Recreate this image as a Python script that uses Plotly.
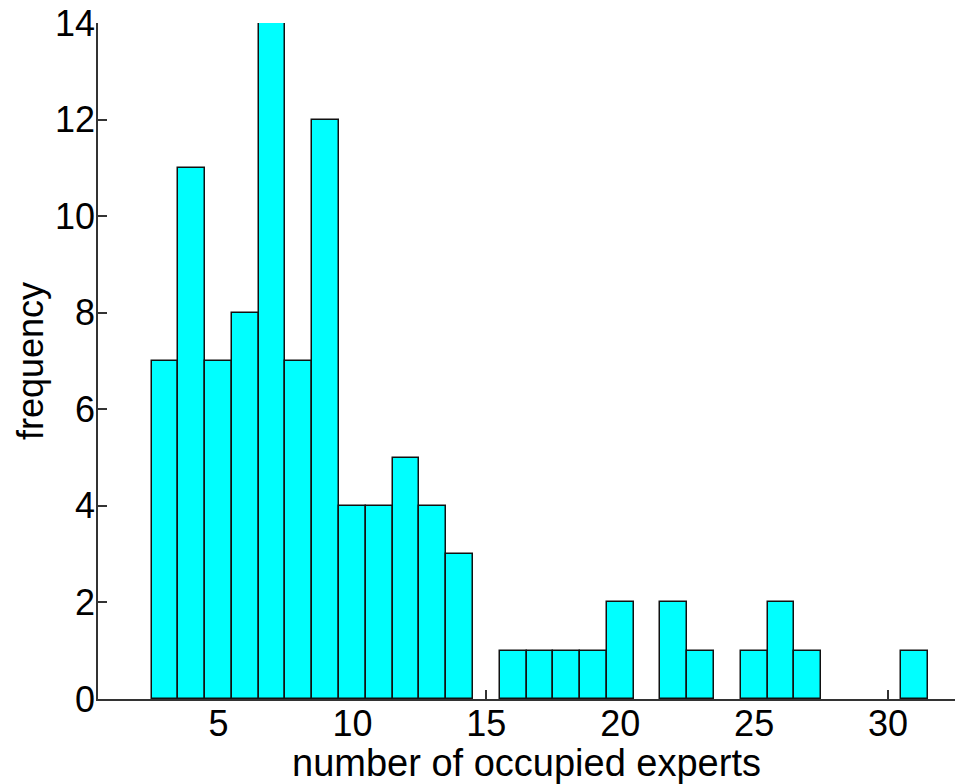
import plotly.graph_objects as go

experts = list(range(3, 32))
frequency = [7, 11, 7, 8, 14, 7, 12, 4, 4, 5, 4, 3, 0, 1, 1, 1, 1, 2, 0, 2, 1, 0, 1, 2, 1, 0, 0, 0, 1]
x_ticks = [5, 10, 15, 20, 25, 30]
y_ticks = [0, 2, 4, 6, 8, 10, 12, 14]

fig = go.Figure()
fig.add_trace(go.Bar(
    x=experts, y=[v if v else None for v in frequency], width=1,
    marker=dict(color="#00FFFF", line=dict(color="#111111", width=1.5)),
))

font = dict(family="Liberation Sans, Arial, Helvetica, sans-serif", size=36, color="black")
tfont = dict(family="Liberation Sans, Arial, Helvetica, sans-serif", size=38, color="black")
fig.update_layout(
    width=965, height=784,
    margin=dict(l=98, r=10, t=23, b=85),
    paper_bgcolor="white", plot_bgcolor="white",
    showlegend=False,
    font=font,
    bargap=0,
)
fig.add_annotation(
    text="number of occupied experts", font=tfont, showarrow=False,
    xref="paper", yref="paper", x=0.5, y=0, xanchor="center", yanchor="top",
    yshift=-41,
)
fig.update_xaxes(
    range=[0.5, 32.5], tickvals=x_ticks, ticks="inside", ticklen=9, tickwidth=1.5,
    tickcolor="#333333", showline=True, linecolor="#333333", linewidth=1.5,
    showgrid=False, zeroline=False, layer="below traces", automargin=False,
    ticklabelstandoff=-8, ticklabeloverflow="allow",
    tickfont=font,
)
fig.update_yaxes(
    range=[0, 14], tickvals=y_ticks, ticks="inside", ticklen=9, tickwidth=1.5,
    tickcolor="#333333", showline=True, linecolor="#333333", linewidth=1.5,
    showgrid=False, zeroline=False, layer="below traces", automargin=False,
    ticklabelstandoff=-6, ticklabeloverflow="allow",
    title=dict(text="frequency", font=font, standoff=0),
    tickfont=font,
)
fig.write_html("out.html", config={"displayModeBar": False},
               post_script="document.body.style.margin='0';")
